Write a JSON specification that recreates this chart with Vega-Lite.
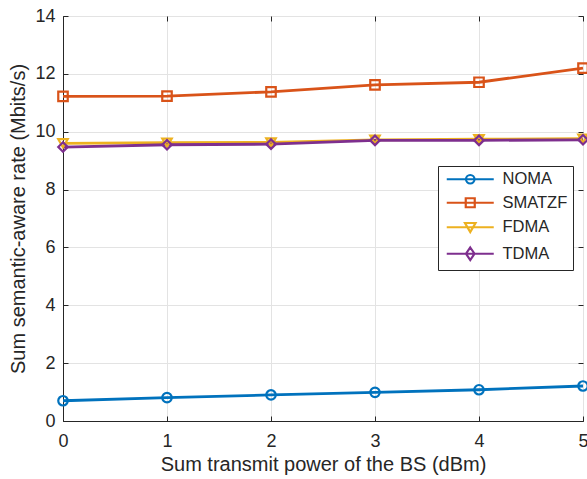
{
  "$schema": "https://vega.github.io/schema/vega-lite/v6.json",
  "width": 520,
  "height": 405,
  "autosize": "none",
  "padding": {"left": 63, "top": 16, "right": 4, "bottom": 58},
  "background": "white",
  "config": {
    "font": "Liberation Sans",
    "view": {"stroke": "#262626", "strokeWidth": 1},
    "axis": {
      "domainColor": "#262626",
      "tickColor": "#262626",
      "labelColor": "#262626",
      "titleColor": "#262626",
      "labelFontSize": 18,
      "titleFontSize": 20,
      "titleFontWeight": "normal",
      "gridColor": "#e3e3e3",
      "gridWidth": 1,
      "tickSize": -5,
      "domainWidth": 1,
      "labelFlush": false,
      "labelOverlap": false
    }
  },
  "data": {
    "values": [
      {"x": 0, "series": "NOMA", "y": 0.70},
      {"x": 1, "series": "NOMA", "y": 0.81},
      {"x": 2, "series": "NOMA", "y": 0.90},
      {"x": 3, "series": "NOMA", "y": 0.99},
      {"x": 4, "series": "NOMA", "y": 1.08},
      {"x": 5, "series": "NOMA", "y": 1.21},
      {"x": 0, "series": "SMATZF", "y": 11.22},
      {"x": 1, "series": "SMATZF", "y": 11.23},
      {"x": 2, "series": "SMATZF", "y": 11.38},
      {"x": 3, "series": "SMATZF", "y": 11.62},
      {"x": 4, "series": "SMATZF", "y": 11.71},
      {"x": 5, "series": "SMATZF", "y": 12.2},
      {"x": 0, "series": "FDMA", "y": 9.60},
      {"x": 1, "series": "FDMA", "y": 9.62},
      {"x": 2, "series": "FDMA", "y": 9.63},
      {"x": 3, "series": "FDMA", "y": 9.72},
      {"x": 4, "series": "FDMA", "y": 9.74},
      {"x": 5, "series": "FDMA", "y": 9.76},
      {"x": 0, "series": "TDMA", "y": 9.47},
      {"x": 1, "series": "TDMA", "y": 9.55},
      {"x": 2, "series": "TDMA", "y": 9.57},
      {"x": 3, "series": "TDMA", "y": 9.70},
      {"x": 4, "series": "TDMA", "y": 9.70},
      {"x": 5, "series": "TDMA", "y": 9.72}
    ]
  },
  "encoding": {
    "color": {
      "field": "series", "type": "nominal",
      "scale": {"domain": ["NOMA", "SMATZF", "FDMA", "TDMA"], "range": ["#0072BD", "#D95319", "#EDB120", "#7E2F8E"]},
      "legend": {
        "title": null,
        "orient": "none",
        "legendX": 375,
        "legendY": 150,
        "fillColor": "white",
        "strokeColor": "#262626",
        "padding": 5,
        "labelFontSize": 16.5,
        "labelColor": "#262626",
        "symbolSize": 100,
        "symbolStrokeWidth": 2.2,
        "symbolFillColor": "transparent",
        "symbolOffset": 19,
        "labelOffset": 24,
        "rowPadding": 5.5,
        "symbolType": {"expr": "datum.value === 'NOMA' ? 'M-4.7,0H4.7M0.85,0A0.85,0.85,0,1,1,-0.85,0A0.85,0.85,0,1,1,0.85,0Z' : datum.value === 'SMATZF' ? 'M-4.7,0H4.7M-0.9,-0.9H0.9V0.9H-0.9Z' : datum.value === 'FDMA' ? 'M-4.7,0H4.7M-1.05,-0.85H1.05L0,0.95Z' : 'M-4.7,0H4.7M0,-1.25L0.85,0L0,1.25L-0.85,0Z'"}
      }
    }
  },
  "layer": [
    {
      "mark": {"type": "line", "strokeWidth": 2.8},
      "encoding": {
        "x": {
          "field": "x", "type": "quantitative",
          "scale": {"domain": [0, 5], "nice": false},
          "axis": {"values": [0, 1, 2, 3, 4, 5], "title": "Sum transmit power of the BS (dBm)", "labelPadding": 16, "titlePadding": 4, "format": "d"}
        },
        "y": {
          "field": "y", "type": "quantitative",
          "scale": {"domain": [0, 14], "nice": false},
          "axis": {"values": [0, 2, 4, 6, 8, 10, 12, 14], "title": "Sum semantic-aware rate (Mbits/s)", "labelPadding": 13, "titlePadding": 6, "format": "d"}
        }
      }
    },
    {
      "mark": {"type": "point", "filled": false, "strokeWidth": 2.2, "opacity": 1},
      "encoding": {
        "x": {
          "field": "x", "type": "quantitative",
          "scale": {"domain": [0, 5], "nice": false},
          "axis": {"orient": "top", "values": [0, 1, 2, 3, 4, 5], "labels": false, "title": null, "grid": false, "domain": false}
        },
        "y": {
          "field": "y", "type": "quantitative",
          "scale": {"domain": [0, 14], "nice": false},
          "axis": {"orient": "right", "values": [0, 2, 4, 6, 8, 10, 12, 14], "labels": false, "title": null, "grid": false, "domain": false}
        },
        "shape": {
          "condition": [
            {"test": "datum.series === 'NOMA'", "value": "circle"},
            {"test": "datum.series === 'SMATZF'", "value": "square"},
            {"test": "datum.series === 'FDMA'", "value": "triangle-down"}
          ],
          "value": "diamond"
        },
        "size": {"value": 90}
      }
    }
  ],
  "resolve": {"axis": {"x": "independent", "y": "independent"}}
}
